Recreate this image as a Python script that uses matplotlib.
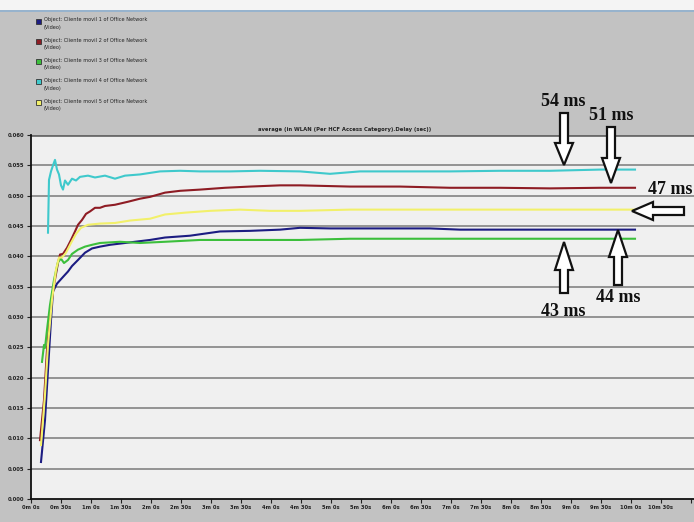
import matplotlib
matplotlib.use("Agg")
import matplotlib.pyplot as plt
import matplotlib.patches as mpatches
from matplotlib.transforms import IdentityTransform

W, H = 694, 522

# ---------------- data (time in seconds, delay in seconds) ----------------
t_blue = [10, 14, 17, 20, 22, 26, 32, 37, 41, 47, 54, 61, 69, 79, 89, 104, 119, 134, 159,
          189, 219, 249, 269, 299, 329, 369, 399, 429, 469, 519, 569, 604]
v_blue = [0.0061, 0.0130, 0.0213, 0.0295, 0.0342, 0.0355, 0.0366, 0.0375, 0.0384, 0.0394,
          0.0406, 0.0413, 0.0416, 0.0419, 0.0421, 0.0424, 0.0427, 0.0431, 0.0434, 0.0441,
          0.0442, 0.0444, 0.0447, 0.0446, 0.0446, 0.0446, 0.0446, 0.0444, 0.0444, 0.0444,
          0.0444, 0.0444]

t_red = [9, 13, 16, 19, 23, 27, 29, 32, 36, 40, 44, 47, 51, 55, 59, 64, 69, 74, 84, 97, 109,
         119, 134, 149, 169, 194, 219, 249, 269, 319, 369, 419, 469, 519, 569, 604]
v_red = [0.0097, 0.0163, 0.0246, 0.0304, 0.0353, 0.0389, 0.0403, 0.0404, 0.0414, 0.0427,
         0.0441, 0.0452, 0.0460, 0.0470, 0.0474, 0.0480, 0.0480, 0.0483, 0.0485, 0.0490,
         0.0495, 0.0498, 0.0505, 0.0508, 0.0510, 0.0513, 0.0515, 0.0517, 0.0517, 0.0515,
         0.0515, 0.0513, 0.0513, 0.0512, 0.0513, 0.0513]

t_green = [11, 13, 14, 16, 19, 23, 27, 30, 33, 37, 41, 47, 54, 61, 69, 89, 109, 134, 169,
           219, 269, 319, 369, 419, 469, 519, 569, 604]
v_green = [0.0226, 0.0254, 0.0249, 0.0279, 0.0320, 0.0361, 0.0391, 0.0396, 0.0389, 0.0394,
           0.0404, 0.0411, 0.0416, 0.0419, 0.0422, 0.0424, 0.0422, 0.0424, 0.0427, 0.0427,
           0.0427, 0.0429, 0.0429, 0.0429, 0.0429, 0.0429, 0.0429, 0.0429]

t_teal = [17, 18, 20, 22, 24, 26, 28, 30, 32, 34, 37, 41, 45, 49, 57, 64, 74, 84, 94, 109,
          129, 149, 169, 199, 229, 269, 299, 329, 369, 419, 469, 519, 569, 604]
v_teal = [0.0439, 0.0526, 0.0540, 0.0550, 0.0559, 0.0543, 0.0535, 0.0517, 0.0510, 0.0525,
          0.0518, 0.0528, 0.0525, 0.0531, 0.0533, 0.0530, 0.0533, 0.0528, 0.0533, 0.0535,
          0.0540, 0.0541, 0.0540, 0.0540, 0.0541, 0.0540, 0.0536, 0.0540, 0.0540, 0.0540,
          0.0541, 0.0541, 0.0543, 0.0543]

t_yellow = [10, 14, 17, 21, 25, 28, 31, 35, 40, 45, 50, 57, 69, 84, 99, 119, 134, 154, 179,
            209, 239, 269, 319, 369, 419, 469, 519, 569, 604]
v_yellow = [0.0089, 0.0172, 0.0254, 0.0328, 0.0378, 0.0398, 0.0398, 0.0406, 0.0422, 0.0437,
            0.0447, 0.0452, 0.0454, 0.0455, 0.0459, 0.0462, 0.0469, 0.0472, 0.0475, 0.0477,
            0.0475, 0.0475, 0.0477, 0.0477, 0.0477, 0.0477, 0.0477, 0.0477, 0.0477]

series_labels = [
    "Object: Cliente movil 1 of Office Network\n(Video)",
    "Object: Cliente movil 2 of Office Network\n(Video)",
    "Object: Cliente movil 3 of Office Network\n(Video)",
    "Object: Cliente movil 4 of Office Network\n(Video)",
    "Object: Cliente movil 5 of Office Network\n(Video)",
]
series_colors = ["#1c1c82", "#8e1c24", "#3cbf3c", "#3fc9cc", "#f2f06a"]

y_ticks = [0.000, 0.005, 0.010, 0.015, 0.020, 0.025, 0.030, 0.035, 0.040, 0.045, 0.050,
           0.055, 0.060]
x_ticks = list(range(0, 631, 30))
x_tick_labels = [f"{s // 60}m {s % 60}s" for s in x_ticks]

title_text = "average (in WLAN (Per HCF Access Category).Delay (sec))"

annotations = ["54 ms", "51 ms", "47 ms", "43 ms", "44 ms"]

# ---------------- figure ----------------
fig = plt.figure(figsize=(W / 100, H / 100), dpi=100)
fig.patch.set_facecolor("#c2c2c2")

def fx(px):
    return px / W

def fy(py):
    return 1 - py / H

# top white strip and blue line
fig.add_artist(mpatches.Rectangle((0, fy(10)), 1, 10 / H, transform=fig.transFigure,
                                  facecolor="#f4f4f4", edgecolor="none"))
fig.add_artist(plt.Line2D([0, 1], [fy(10.5), fy(10.5)], transform=fig.transFigure,
                          color="#8fb0d0", lw=1.2))

ax = fig.add_axes([fx(31), fy(499), fx(694) - fx(31), fy(135) - fy(499)])
ax.set_facecolor("#f0f0f0")

for yt in y_ticks[1:]:
    ax.axhline(yt, color="#8c8c8c" if yt < 0.0599 else "#6a6a6a",
               lw=1.3 if yt < 0.0599 else 2.0, zorder=1)

data = [(t_blue, v_blue), (t_red, v_red), (t_green, v_green), (t_teal, v_teal),
        (t_yellow, v_yellow)]
for (t, v), c in zip(data, series_colors):
    ax.plot(t, v, color=c, lw=1.5, zorder=3)

ax.set_yticks(y_ticks)
ax.set_yticklabels([f"{v:.3f}" for v in y_ticks], fontsize=3.8, fontweight="bold")
ax.set_xticks(x_ticks)
ax.set_xticklabels(x_tick_labels, fontsize=3.8, fontweight="bold")
ax.set_xticks([660], minor=True)
ax.tick_params(axis="both", which="both", length=3, width=0.8, pad=1.5, colors="#222222")
ax.set_xlim(0, 663)
ax.set_ylim(0, 0.060)
for side in ["top", "right"]:
    ax.spines[side].set_visible(False)
for side in ["left", "bottom"]:
    ax.spines[side].set_color("#111111")
    ax.spines[side].set_linewidth(1.3)

fig.text(fx(345), fy(129), title_text, fontsize=3.8, fontweight="bold",
         ha="center", va="center", color="#222222")

# legend entries
for i, (lab, c) in enumerate(zip(series_labels, series_colors)):
    yc = 21 + i * 20.3
    fig.add_artist(mpatches.Rectangle((fx(35.5), fy(yc + 2.5)), 5 / W, 5 / H,
                                      transform=fig.transFigure, facecolor=c,
                                      edgecolor="#333333", lw=0.6))
    fig.text(fx(44), fy(yc - 3.5), lab, fontsize=3.6, va="top", ha="left",
             color="#222222", linespacing=1.6)

# annotation text
ann_font = dict(family="Liberation Serif", fontweight="bold", fontsize=13,
                color="#111111", va="center")
ann_pos = [(563, 101, "center"), (611, 116, "center"), (692, 190, "right"),
           (563, 311, "center"), (618, 298, "center")]
for txt, (px, py, ha) in zip(annotations, ann_pos):
    fig.text(fx(px), fy(py), txt, ha=ha, **ann_font)

# hollow block arrows (pixel coordinates from top-left)
def block_arrow(x0, y0, x1, y1, width=8, head_width=18, head_length=22):
    a = mpatches.FancyArrow(x0, H - y0, x1 - x0, -(y1 - y0), width=width,
                            head_width=head_width, head_length=head_length,
                            length_includes_head=True, facecolor="white",
                            edgecolor="#111111", lw=1.6, transform=IdentityTransform(),
                            zorder=10)
    fig.add_artist(a)

block_arrow(564, 113, 564, 165)
block_arrow(611, 127, 611, 183, head_length=25)
block_arrow(684, 211, 632, 211, head_length=21)
block_arrow(564, 293, 564, 242, head_length=28)
block_arrow(618, 285, 618, 230, head_length=27)

fig.savefig("out.png", dpi=100, facecolor=fig.get_facecolor())
